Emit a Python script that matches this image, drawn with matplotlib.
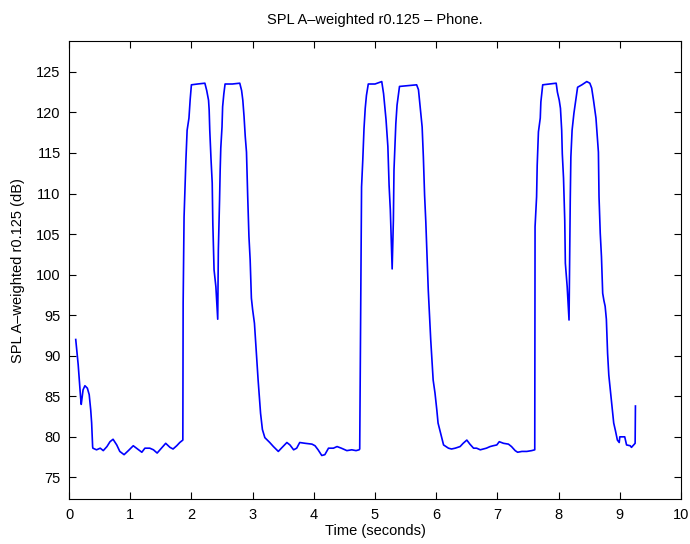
import matplotlib
matplotlib.use("Agg")
import matplotlib.pyplot as plt
import numpy as np

plt.rcParams['font.family'] = ['Liberation Sans', 'DejaVu Sans']

# Time (s) and SPL (dB)
time_s = [0.11, 0.13, 0.15, 0.17, 0.19, 0.20, 0.23, 0.26, 0.30, 0.33, 0.355, 0.37, 0.386,
          0.39, 0.45, 0.51, 0.56, 0.62, 0.67, 0.72, 0.78, 0.83, 0.90, 0.97, 1.05, 1.12,
          1.19, 1.24, 1.32, 1.38, 1.44, 1.51, 1.58, 1.65, 1.70, 1.76, 1.81, 1.86,
          1.865, 1.88, 1.91, 1.93, 1.96, 1.98, 2.00, 2.10, 2.22, 2.25, 2.28, 2.29, 2.30,
          2.32, 2.34, 2.35, 2.36, 2.37, 2.40, 2.43, 2.44, 2.46, 2.47, 2.48, 2.50, 2.51,
          2.53, 2.55, 2.67, 2.79, 2.82, 2.84, 2.86, 2.88, 2.90, 2.92, 2.94, 2.96, 2.98,
          3.00, 3.03, 3.06, 3.09, 3.11, 3.13, 3.16, 3.20, 3.28, 3.34, 3.42, 3.47, 3.56,
          3.61, 3.67, 3.72, 3.77, 3.86, 3.97, 4.02, 4.07, 4.13, 4.18, 4.24, 4.32, 4.38,
          4.45, 4.54, 4.62, 4.69, 4.74, 4.75,
          4.78, 4.80, 4.82, 4.84, 4.86, 4.89, 5.00, 5.11, 5.14, 5.16, 5.18, 5.21, 5.23,
          5.25, 5.27, 5.28, 5.30, 5.31, 5.34, 5.36, 5.40, 5.55, 5.68, 5.71, 5.73, 5.75,
          5.77, 5.79, 5.81, 5.83, 5.85, 5.87, 5.91, 5.95, 5.98, 6.01, 6.03, 6.07, 6.12,
          6.20, 6.25, 6.31, 6.39, 6.44, 6.50, 6.55, 6.61, 6.66, 6.72, 6.77, 6.82, 6.88,
          6.93, 6.99, 7.03, 7.10, 7.18, 7.23, 7.29, 7.33, 7.40, 7.48, 7.56, 7.61,
          7.615, 7.64, 7.65, 7.67, 7.70, 7.71, 7.74, 7.85, 7.96, 7.98, 8.01, 8.03, 8.05,
          8.06, 8.08, 8.10, 8.11, 8.14, 8.17, 8.18, 8.19, 8.20, 8.22, 8.25, 8.28, 8.31,
          8.38, 8.46, 8.51, 8.54, 8.57, 8.61, 8.63, 8.65, 8.66, 8.68, 8.70, 8.72, 8.74,
          8.76, 8.78, 8.80, 8.82, 8.85, 8.88, 8.90, 8.93, 8.96, 8.99, 9.00, 9.05, 9.08,
          9.11, 9.17, 9.19, 9.25, 9.255]
spl_db = [92.0, 90.4, 88.9, 86.8, 84.8, 84.0, 85.8, 86.3, 86.0, 85.2, 83.3, 81.7, 78.8,
          78.6, 78.4, 78.6, 78.3, 78.8, 79.4, 79.7, 79.0, 78.2, 77.8, 78.3, 78.9, 78.5,
          78.1, 78.6, 78.6, 78.4, 78.0, 78.6, 79.2, 78.7, 78.5, 78.9, 79.3, 79.6,
          96.5, 107.1, 114.1, 117.8, 119.3, 121.6, 123.4, 123.5, 123.6, 122.7, 121.5, 120.3, 117.8,
          114.3, 111.3, 106.3, 103.4, 100.6, 98.5, 94.5, 103.0, 109.2, 112.9, 115.6, 118.2, 120.7,
          122.3, 123.5, 123.5, 123.6, 122.7, 121.5, 119.5, 117.0, 115.1, 109.6, 104.7, 101.8, 97.1,
          95.7, 94.0, 90.5, 87.0, 85.0, 82.9, 80.9, 79.9, 79.3, 78.8, 78.2, 78.6, 79.3,
          79.0, 78.4, 78.6, 79.3, 79.2, 79.1, 78.9, 78.4, 77.7, 77.8, 78.6, 78.6, 78.8,
          78.6, 78.3, 78.4, 78.3, 78.4, 78.5,
          110.8, 114.1, 118.0, 120.5, 122.1, 123.5, 123.5, 123.8, 122.3, 120.7, 119.1, 115.8, 111.0,
          108.0, 103.0, 100.7, 106.7, 112.9, 118.6, 120.9, 123.2, 123.3, 123.4, 122.8, 121.3, 119.9,
          118.2, 114.5, 109.8, 106.5, 102.2, 98.1, 92.0, 87.0, 85.4, 83.3, 81.7, 80.5, 79.0,
          78.6, 78.5, 78.6, 78.8, 79.2, 79.6, 79.1, 78.6, 78.6, 78.4, 78.5, 78.6, 78.8,
          78.9, 79.0, 79.4, 79.2, 79.1, 78.8, 78.3, 78.1, 78.2, 78.2, 78.3, 78.4,
          105.9, 109.6, 113.5, 117.6, 119.3, 121.3, 123.4, 123.5, 123.6, 122.5, 121.5, 120.5, 117.8,
          114.9, 111.9, 106.7, 101.4, 98.5, 94.4, 101.8, 109.2, 114.5, 117.8, 119.9, 121.5, 123.1,
          123.4, 123.8, 123.6, 123.0, 121.5, 119.3, 117.2, 115.1, 109.6, 105.1, 102.2, 97.7, 96.8,
          96.1, 94.5, 90.3, 87.6, 85.4, 83.3, 81.7, 80.7, 79.6, 79.3, 80.0, 80.0, 80.0,
          79.0, 78.9, 78.7, 79.2, 83.8]

x_ticks = list(range(0, 11))
y_ticks = list(range(75, 130, 5))

fig = plt.figure(figsize=(6.9, 5.44), dpi=100)
ax = fig.add_axes([0.1, 0.0822, 0.887, 0.8424])
ax.plot(time_s, spl_db, color=(0, 0, 1), linewidth=1.2)

ax.set_xlim(0, 10)
ax.set_ylim(72.3, 128.8)
ax.set_xticks(x_ticks)
ax.set_yticks(y_ticks)
ax.tick_params(direction='in', top=True, right=True, length=5, width=0.8,
               labelsize=10.5, pad=6, colors='black')
for s in ax.spines.values():
    s.set_linewidth(0.8)

ax.set_title('SPL A\u2013weighted r0.125 \u2013 Phone.', fontsize=10.5, pad=12)
ax.set_xlabel('Time (seconds)', fontsize=10.5, labelpad=2)
ax.set_ylabel('SPL A\u2013weighted r0.125 (dB)', fontsize=10.5, labelpad=8)

fig.savefig('out.png', dpi=100)
